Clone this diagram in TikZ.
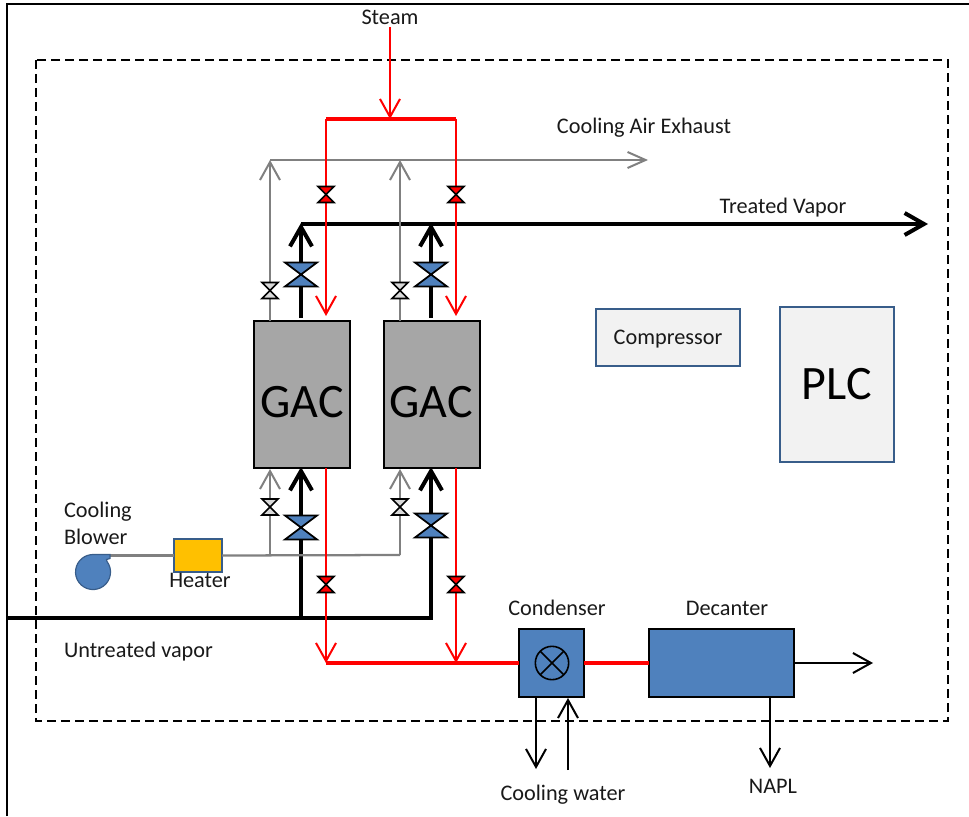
\documentclass[tikz,border=0pt]{standalone}
\usepackage{fontspec}
\setmainfont{Carlito}
\usetikzlibrary{arrows.meta}
\definecolor{sblue}{HTML}{4F81BD}
\definecolor{sedge}{HTML}{385D8A}
\definecolor{sgrey}{HTML}{808080}
\definecolor{sgac}{HTML}{A6A6A6}
\definecolor{spale}{HTML}{F2F2F2}
\definecolor{sgold}{HTML}{FFC000}
\definecolor{svalve}{HTML}{D9D9D9}
\tikzset{
  lbl/.style={font=\fontsize{16.7pt}{20pt}\selectfont, text=black!90, inner sep=0pt, outer sep=0pt},
  bignm/.style={font=\fontsize{36pt}{40pt}\selectfont, text=black, inner sep=0pt, outer sep=0pt},
  box/.style={draw=black, line width=1.5pt, inner sep=0pt, outer sep=0pt, minimum width=#1},
  gacbox/.style={box=72pt, fill=sgac, minimum height=110.25pt},
  softbox/.style={draw=sedge, line width=1.2pt, fill=spale, inner sep=0pt, outer sep=0pt},
  thin barb/.style={-{Straight Barb[length=13.5pt,width=15pt,line width=1.5pt]}},
  redln/.style={draw=red, line width=1.5pt},
  redmain/.style={draw=red, line width=2.4pt},
  greyln/.style={draw=sgrey, line width=1.7pt},
  thick line/.style={draw=black, line width=3pt},
  thick barb/.style={-{Straight Barb[length=14.5pt,width=16.5pt,line width=3pt]}},
  blk/.style={draw=black, line width=1.5pt},
  vlv/.style={draw=black, line width=1.3pt, line join=miter}
}
% name, x, y, half width, half height, fill
\newcommand{\vlvshape}[6]{%
  \coordinate (#1) at (#2,#3);
  \path[vlv, fill=#6] (#2-#4,#3-#5) -- (#2+#4,#3-#5) -- (#2-#4,#3+#5) -- (#2+#4,#3+#5) -- cycle;
}
\begin{document}
\begin{tikzpicture}[x=0.75pt,y=-0.75pt]
\useasboundingbox (0,0) rectangle (969,816);
% frame
\coordinate (fa) at (7,816); \coordinate (fb) at (7,4); \coordinate (fc) at (969,4);
\draw[black, line width=1.6pt] (fa) -- (fb) -- (fc);
\coordinate (da) at (36,60); \coordinate (db) at (948,721);
\draw[black, line width=1.2pt, dash pattern=on 6.5pt off 4pt] (da) rectangle (db);

% equipment
\node[gacbox] (gaca) at (302,394.5) {};
\node[gacbox] (gacb) at (432,394.5) {};
\node[bignm] (tgaca) at (302,402) {GAC};
\node[bignm] (tgacb) at (431,402) {GAC};
\node[softbox, minimum width=108pt, minimum height=42.75pt] (comp) at (668,337.5) {};
\node[lbl] (tcomp) at (668,339.5) {Compressor};
\node[softbox, minimum width=85.5pt, minimum height=116.25pt, bignm] (plc) at (837,384.5) {PLC};
\node[box=48.75pt, fill=sblue, minimum height=51pt] (cond) at (551.5,663) {};
\node[box=108.75pt, fill=sblue, minimum height=51pt] (dec) at (721.5,663) {};
\node[draw=sedge, line width=1.2pt, fill=sgold, inner sep=0pt, outer sep=0pt, minimum width=36pt, minimum height=24.75pt] (heat) at (198,555.5) {};

% named junctions
\coordinate (stm) at (390,27); \coordinate (stmj) at (390,119);
\coordinate (rl) at (326,119); \coordinate (rr) at (456,119);
\coordinate (rlt) at (326,316); \coordinate (rrt) at (456,316);
\coordinate (rlb) at (326,468); \coordinate (rrb) at (456,468);
\coordinate (rlh) at (326,663); \coordinate (rrh) at (456,663);
\coordinate (gl) at (270,160); \coordinate (gm) at (400,160); \coordinate (ge) at (648,160);
\coordinate (gltop) at (270,321); \coordinate (gmtop) at (400,321);
\coordinate (glb) at (270,555); \coordinate (gmb) at (400,555);
\coordinate (glu) at (270,469); \coordinate (gmu) at (400,469);
\coordinate (bl) at (110,555.5);
\coordinate (ta) at (301,318); \coordinate (tat) at (301,223);
\coordinate (tb) at (431,318); \coordinate (tbt) at (431,223);
\coordinate (th) at (301,224); \coordinate (te) at (928,224);
\coordinate (u0) at (7,618); \coordinate (ua) at (301,618); \coordinate (ub) at (431,618);
\coordinate (uat) at (301,467); \coordinate (ubt) at (431,467);
\coordinate (dece) at (873,663);
\coordinate (cwd) at (536,769); \coordinate (cwdt) at (536,697);
\coordinate (cwu) at (568,770); \coordinate (cwut) at (568,698);
\coordinate (nt) at (770,697); \coordinate (ne) at (770,768);

% black process lines
\draw[thick line, thick barb] (u0) -- (ua) -- (uat);
\draw[thick line, thick barb] (ua) -- (ub) -- (ubt);
\draw[thick line, thick barb] (ta) -- (tat);
\draw[thick line, thick barb] (tb) -- (tbt);
\draw[thick line, thick barb] (th) -- (te);
% cooling air
\draw[greyln] (bl) -- (heat.west);
\draw[greyln] (heat.east) -- (gmb);
\draw[greyln, thin barb] (glb) -- (glu);
\draw[greyln, thin barb] (gmb) -- (gmu);
\draw[greyln, thin barb] (gltop) -- (gl);
\draw[greyln, thin barb] (gmtop) -- (gm);
\draw[greyln, -{Straight Barb[length=13.5pt,width=12pt,line width=1.5pt]}] (gl) -- (ge);
% steam
\draw[redln, thin barb] (stm) -- (stmj);
\draw[redmain] (rl) -- (rr);
\draw[redln, thin barb] (rl) -- (rlt);
\draw[redln, thin barb] (rr) -- (rrt);
\draw[redln, thin barb] (rlb) -- (rlh);
\draw[redln, thin barb] (rrb) -- (rrh);
\draw[redmain] (rlh) -- (cond.west);
\draw[redmain] (cond.east) -- (dec.west);
% outlets
\draw[blk, thin barb] (dec.east) -- (dece);
\draw[blk, thin barb] (cwdt) -- (cwd);
\draw[blk, thin barb] (cwu) -- (cwut);
\draw[blk, thin barb] (nt) -- (ne);

% condenser symbol
\node[circle, draw=black, line width=1.2pt, minimum size=25pt, inner sep=0pt, outer sep=0pt] (csym) at (552,663) {};
\draw[black, line width=1.1pt] (csym.45) -- (csym.225);
\draw[black, line width=1.1pt] (csym.135) -- (csym.315);

% blower
\coordinate (blw) at (93,572);
\path[draw=sedge, line width=.9pt, fill=sblue] (93,554.5) -- (110,554.5) -- (110,558.5) -- (106.5,559.5) -- (107,561.5) arc[start angle=-37, end angle=270, radius=17.5] -- cycle;

% valves
\vlvshape{v1}{326}{194.5}{8}{8}{red}
\vlvshape{v2}{456}{194.5}{8}{8}{red}
\vlvshape{v3}{301}{274.5}{16}{12}{sblue}
\vlvshape{v4}{431}{274.5}{16}{12}{sblue}
\vlvshape{v5}{270}{290.5}{8}{8}{svalve}
\vlvshape{v6}{400}{290.5}{8}{8}{svalve}
\vlvshape{v7}{270}{507}{8}{8}{svalve}
\vlvshape{v8}{400}{507}{8}{8}{svalve}
\vlvshape{v9}{301}{527.5}{16}{12}{sblue}
\vlvshape{v10}{431}{525.5}{16}{12}{sblue}
\vlvshape{v11}{326}{584.5}{8}{8}{red}
\vlvshape{v12}{456}{584.5}{8}{8}{red}

% labels
\node[lbl] (lstm) at (390,17) {Steam};
\node[lbl] (lair) at (644,128) {Cooling Air Exhaust};
\node[lbl] (ltr) at (783,208) {Treated Vapor};
\node[lbl, anchor=west] (lcb1) at (64,512) {Cooling};
\node[lbl, anchor=west] (lcb2) at (64,537) {Blower};
\node[lbl] (lht) at (200,580) {Heater};
\node[lbl, anchor=west] (lun) at (64,652) {Untreated vapor};
\node[lbl] (lcd) at (557,608) {Condenser};
\node[lbl] (ldc) at (727,608) {Decanter};
\node[lbl] (lcw) at (563,795) {Cooling water};
\node[lbl] (lnp) at (773,786) {NAPL};
\end{tikzpicture}
\end{document}
